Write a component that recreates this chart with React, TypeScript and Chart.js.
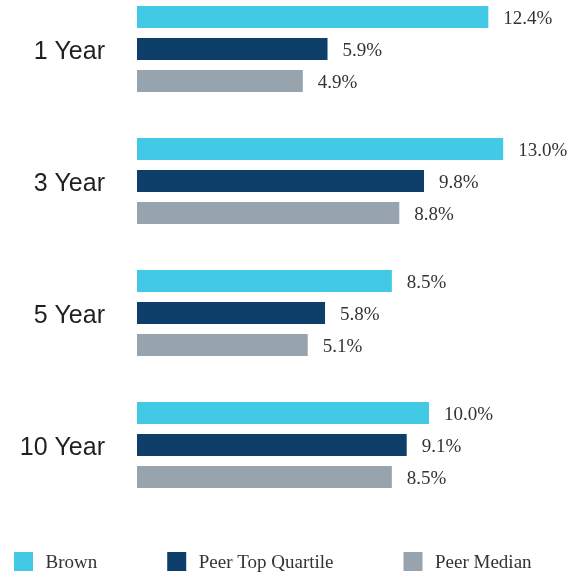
import React, { useEffect, useRef } from "react";
import { Chart, registerables } from "chart.js";

Chart.register(...registerables);

const categories = ["1 Year", "3 Year", "5 Year", "10 Year"];
const seriesNames = ["Brown", "Peer Top Quartile", "Peer Median"];
const brown = [12.4, 13.0, 8.5, 10.0];
const peerTopQuartile = [5.9, 9.8, 5.8, 9.1];
const peerMedian = [4.9, 8.8, 5.1, 8.5];
const seriesColors = ["#41C9E6", "#0E3E6A", "#97A3AD"];
const axisMin = -1.8;
const axisMax = 15.7;

const W = 582;
const H = 573;

const valueLabelPlugin = {
  id: "valueLabels",
  afterDatasetsDraw(chart: any) {
    const ctx = chart.ctx;
    ctx.save();
    ctx.font = '19px "Liberation Serif", "Times New Roman", serif';
    ctx.fillStyle = "#333333";
    ctx.textAlign = "left";
    ctx.textBaseline = "middle";
    chart.data.datasets.forEach((ds: any, i: number) => {
      const meta = chart.getDatasetMeta(i);
      meta.data.forEach((el: any, j: number) => {
        ctx.fillText(Number(ds.data[j]).toFixed(1) + "%", el.x + 15, el.y + 2);
      });
    });
    ctx.restore();
  },
};

const legendPlugin = {
  id: "bottomLegend",
  afterDraw(chart: any) {
    const ctx = chart.ctx;
    ctx.save();
    ctx.font = '19px "Liberation Serif", "Times New Roman", serif';
    ctx.textAlign = "left";
    ctx.textBaseline = "middle";
    let x = 14;
    const boxTop = 552;
    const box = 19;
    chart.data.datasets.forEach((ds: any) => {
      ctx.fillStyle = ds.backgroundColor;
      ctx.fillRect(x, boxTop, box, box);
      ctx.fillStyle = "#333333";
      const tx = x + box + 12.5;
      ctx.fillText(ds.label, tx, boxTop + box / 2 + 1.5);
      x = tx + ctx.measureText(ds.label).width + 70;
    });
    ctx.restore();
  },
};

export default function App() {
  const ref = useRef<HTMLCanvasElement>(null);

  useEffect(() => {
    if (!ref.current) return;
    const values = [brown, peerTopQuartile, peerMedian];
    const chart = new Chart(ref.current, {
      type: "bar",
      data: {
        labels: categories,
        datasets: seriesNames.map((name, i) => ({
          label: name,
          data: values[i],
          backgroundColor: seriesColors[i],
          borderWidth: 0,
          base: axisMin,
          barPercentage: 0.6875,
          categoryPercentage: 96 / 132,
          clip: false as any,
        })),
      },
      options: {
        indexAxis: "y",
        responsive: false,
        animation: false,
        events: [],
        layout: { padding: { top: 49, bottom: 128, left: 0, right: 12 } },
        plugins: {
          legend: { display: false },
          tooltip: { enabled: false },
        },
        scales: {
          x: {
            display: false,
            min: axisMin,
            max: axisMax,
          },
          y: {
            offset: false,
            grid: { display: false, drawTicks: false },
            border: { display: false },
            ticks: {
              autoSkip: false,
              padding: 32,
              labelOffset: 3,
              color: "#231F20",
              font: { family: '"Liberation Sans", Arial, sans-serif', size: 25 },
            },
            afterFit(scale: any) {
              scale.width = 137;
            },
          },
        },
      },
      plugins: [valueLabelPlugin, legendPlugin],
    } as any);
    return () => chart.destroy();
  }, []);

  return (
    <div style={{ position: "absolute", left: 0, top: 0, width: W, height: H, background: "#fff" }}>
      <canvas ref={ref} width={W} height={H} style={{ display: "block", width: W, height: H }} />
    </div>
  );
}
